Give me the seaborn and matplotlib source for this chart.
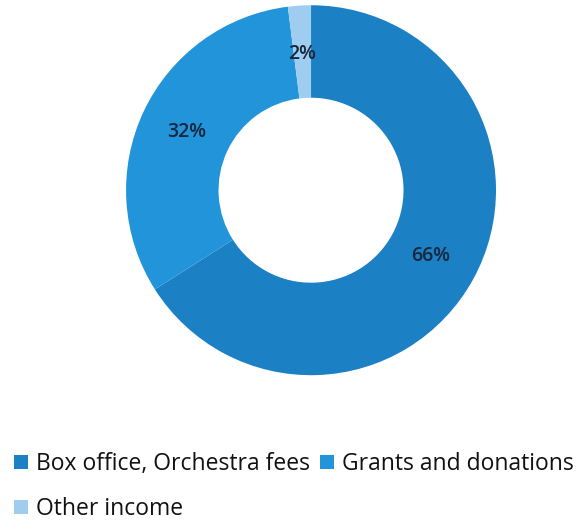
import matplotlib
matplotlib.use("Agg")
import matplotlib.pyplot as plt
import seaborn as sns
from matplotlib.patches import Patch

sns.set_theme(style="white")
plt.rcParams['font.family'] = ['Open Sans', 'DejaVu Sans']

categories = ["Box office, Orchestra fees", "Grants and donations", "Other income"]
values = [66, 32, 2]
colors = ["#1C80C4", "#2194DA", "#9FCDF0"]

fig = plt.figure(figsize=(5.83, 5.24), dpi=100)
ax = fig.add_axes([0.216, 0.284, 0.635, 0.706])
wedges, texts, autotexts = ax.pie(
    values, colors=colors, startangle=90, counterclock=False,
    autopct='%.0f%%', pctdistance=0.74,
    wedgeprops=dict(width=0.5, linewidth=0),
    textprops=dict(fontsize=14, color="#17273d", fontweight="semibold"))
ax.set_xlim(-1, 1)
ax.set_ylim(-1, 1)
ax.set_aspect('equal')
ax.axis('off')

order = [0, 2, 1]
handles = [Patch(facecolor=colors[i], edgecolor='none') for i in order]
labels = [categories[i] for i in order]
fig.legend(handles, labels, ncol=2, loc='upper left',
           bbox_to_anchor=(0.012, 0.15), frameon=False,
           fontsize=16.5, handlelength=0.6, handleheight=0.6,
           handletextpad=0.35, columnspacing=0.45, labelspacing=0.9,
           borderaxespad=0, borderpad=0.3, labelcolor="#111111")

fig.savefig("out.png", dpi=100, facecolor="white")
